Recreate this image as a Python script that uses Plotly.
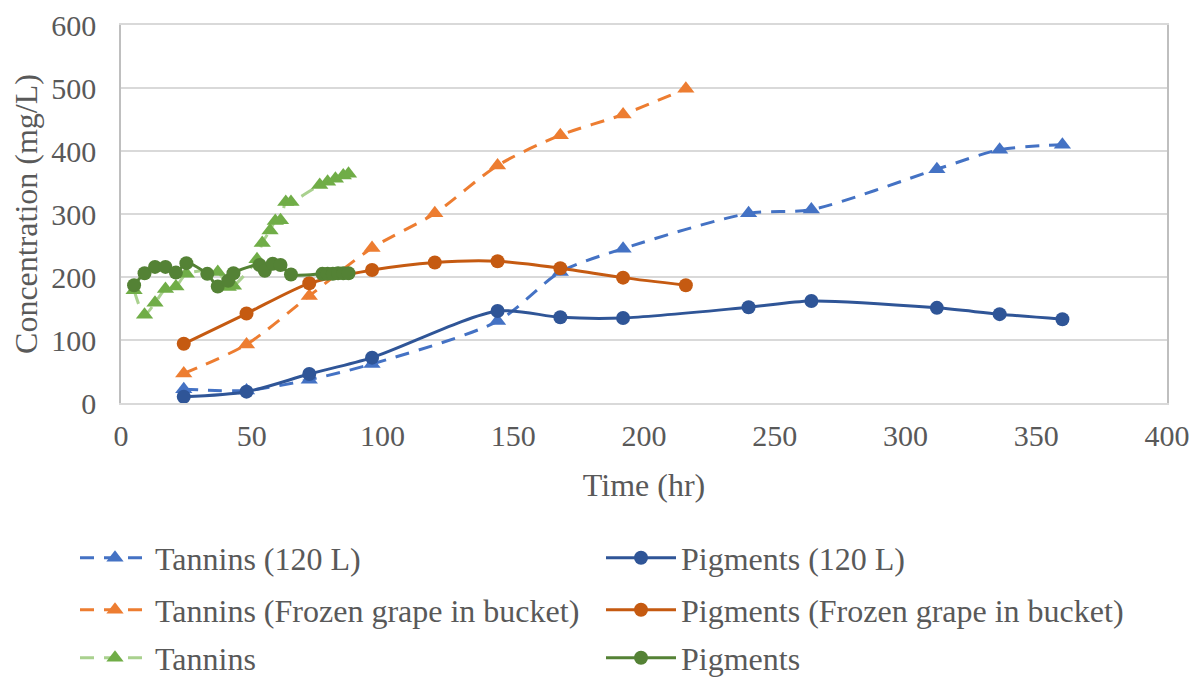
import plotly.graph_objects as go

# ---------------- data ----------------
t_120 = [24, 48, 72, 96, 144, 168, 192, 240, 264, 312, 336, 360]
tannins_120 = [22, 20, 37, 62, 130, 208, 245, 301, 307, 371, 402, 410]
pigments_120 = [10, 18, 46, 72, 146, 136, 135, 152, 162, 151, 141, 133]

t_frozen = [24, 48, 72, 96, 120, 144, 168, 192, 216]
tannins_frozen = [47, 93, 170, 246, 301, 377, 425, 458, 499]
pigments_frozen = [94, 142, 190, 211, 223, 225, 214, 199, 187]

t_tannins = [5, 9, 13, 17, 21, 25, 37, 41, 43, 52, 54, 57, 59, 61, 63, 65, 76, 79, 82, 85, 87]
tannins = [179, 140, 159, 181, 185, 205, 208, 184, 186, 228, 254, 274, 289, 290, 319, 319,
           346, 351, 356, 361, 364]

t_pigments = [5, 9, 13, 17, 21, 25, 33, 37, 41, 43, 53, 55, 58, 61, 65, 77, 79, 81, 83, 85, 87]
pigments = [187, 206, 216, 216, 207, 222, 205, 185, 194, 206, 219, 210, 221, 219, 204,
            205, 205, 205, 206, 206, 206]

x_ticks = [0, 50, 100, 150, 200, 250, 300, 350, 400]
y_ticks = [0, 100, 200, 300, 400, 500, 600]

FONT = "Liberation Serif, Times New Roman, serif"
TXT = "#595959"
FS = 30      # tick labels
FS_T = 32    # axis titles and legend
DASH = "14px,10px"
W, H = 1190, 669   # page body has an 8px margin

fig = go.Figure()

def add(x, y, name, line_color, marker_color, symbol, dash, legend):
    fig.add_trace(go.Scatter(
        x=x, y=y, name=name, mode="lines+markers",
        line=dict(color=line_color, width=3, dash=dash, shape="spline", smoothing=0.8),
        marker=dict(color=marker_color, symbol=symbol, size=14 if symbol == "circle" else 15,
                    line=dict(width=0)),
        legend=legend,
    ))

add(t_120, tannins_120, "Tannins (120 L)", "#4472C4", "#4472C4", "triangle-up", DASH, "legend")
add(t_120, pigments_120, "Pigments (120 L)", "#2F5597", "#2F5597", "circle", "solid", "legend2")
add(t_frozen, tannins_frozen, "Tannins (Frozen grape in bucket)", "#ED7D31", "#ED7D31",
    "triangle-up", DASH, "legend3")
add(t_frozen, pigments_frozen, "Pigments (Frozen grape in bucket)", "#C55A11", "#C55A11",
    "circle", "solid", "legend4")
add(t_tannins, tannins, "Tannins", "#A9D18E", "#70AD47", "triangle-up", DASH, "legend5")
add(t_pigments, pigments, "Pigments", "#548235", "#548235", "circle", "solid", "legend6")

def leg(xpx, ypx):
    return dict(orientation="h", xref="container", yref="container", visible=True,
                x=xpx / W, y=1 - ypx / H, xanchor="left", yanchor="middle",
                font=dict(family=FONT, size=FS_T, color=TXT), bgcolor="rgba(0,0,0,0)",
                itemwidth=70)

col1, col2 = 67, 593
rows = [550, 602, 650]

fig.update_layout(
    width=W, height=H, showlegend=True,
    margin=dict(l=113, r=31, t=17, b=274),
    paper_bgcolor="white", plot_bgcolor="white",
    font=dict(family=FONT, size=FS, color=TXT),
    legend=leg(col1, rows[0]),
    legend2=leg(col2, rows[0]),
    legend3=leg(col1, rows[1]),
    legend4=leg(col2, rows[1]),
    legend5=leg(col1, rows[2]),
    legend6=leg(col2, rows[2]),
    xaxis=dict(
        range=[0, 400], tickvals=x_ticks, ticktext=[str(v) for v in x_ticks],
        showgrid=False, zeroline=False, automargin=False,
        showline=True, linecolor="#D9D9D9", linewidth=1.5, mirror=True,
        ticks="", ticklabelstandoff=5,
        tickfont=dict(family=FONT, size=FS, color=TXT),
        title=dict(text="Time (hr)", font=dict(family=FONT, size=FS_T, color=TXT), standoff=23),
    ),
    yaxis=dict(
        range=[0, 600], tickvals=y_ticks, ticktext=[str(v) for v in y_ticks],
        showgrid=True, gridcolor="#D9D9D9", gridwidth=1.5, zeroline=False, automargin=False,
        showline=True, linecolor="#BFBFBF", linewidth=1.5, mirror=True,
        ticks="", ticklabelstandoff=17,
        tickfont=dict(family=FONT, size=FS, color=TXT),
        title=dict(text="Concentration (mg/L)", font=dict(family=FONT, size=FS_T, color=TXT),
                   standoff=16),
    ),
)

fig.write_html("out.html")
